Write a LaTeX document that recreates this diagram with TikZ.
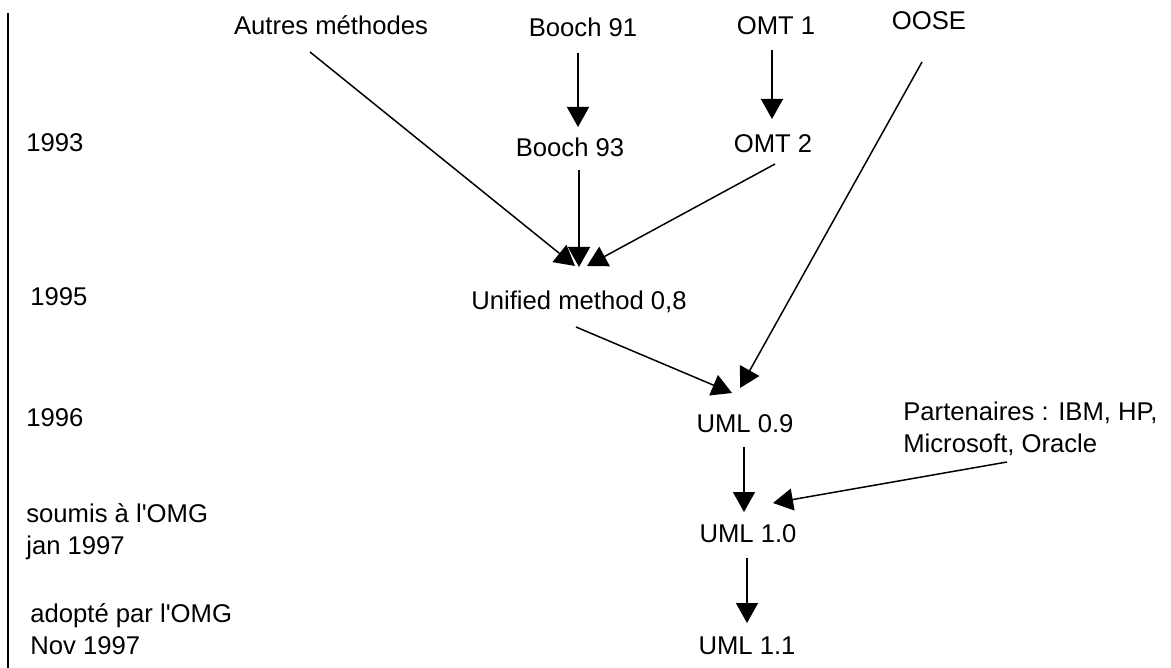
\documentclass[tikz,border=0pt]{standalone}
\usepackage{fontspec}
\setmainfont{Liberation Sans}
\usepackage{tikz}
\usetikzlibrary{arrows.meta}

\begin{document}
\begin{tikzpicture}[x=0.02cm,y=-0.02cm,
  lbl/.style={inner sep=0pt, anchor=base, font=\fontsize{14.6}{18.7}\selectfont},
  side/.style={lbl, anchor=base west, align=left},
  arr/.style={line width=0.85pt, -{Triangle[length=0.4cm,width=0.44cm]}}]

\useasboundingbox (0,0) rectangle (1171,668);

% ------------------------------------------------------------
% Time axis on the left
% ------------------------------------------------------------
\draw[line width=1.1pt] (8,13) -- (8,668);

\node[side] (y93) at (26,152) {1993};
\node[side] (y95) at (30,306) {1995};
\node[side] (y96) at (26,427) {1996};
% multi-line labels sit on the baseline of their last line
\node[side] (soumis) at (26,555) {soumis à l\textquotesingle OMG\\jan 1997};
\node[side] (adopte) at (30,655) {adopté par l\textquotesingle OMG\\Nov 1997};

% ------------------------------------------------------------
% Methods and versions
% ------------------------------------------------------------
\node[lbl] (autres) at (331,35) {Autres méthodes};
\node[lbl] (booch91) at (583,37) {Booch 91};
\node[lbl] (omt1) at (776,35) {OMT 1};
\node[lbl] (oose) at (929,30) {OOSE};

\node[lbl] (booch93) at (570,157) {Booch 93};
\node[lbl] (omt2) at (773,153) {OMT 2};

\node[lbl] (unified) at (579,310) {Unified method 0,8};

\node[lbl] (uml09) at (745,433) {UML 0.9};
\node[side] (partners) at (903,453) {Partenaires : IBM, HP,\\Microsoft, Oracle};
\node[lbl] (uml10) at (748,543) {UML 1.0};
\node[lbl] (uml11) at (747,655) {UML 1.1};

% ------------------------------------------------------------
% Arrows
% ------------------------------------------------------------
\draw[arr] ([shift={(-5,16)}]booch91.base) -- ([shift={(8,-30)}]booch93.base);
\draw[arr] ([shift={(-4,15)}]omt1.base) -- ([shift={(-1,-34)}]omt2.base);

% merging into the unified method
\draw[arr] ([shift={(-21,17)}]autres.base) -- ([shift={(-4,-44)}]unified.base);
\draw[arr] ([shift={(9,13)}]booch93.base) -- ([shift={(0,-43)}]unified.base);
\draw[arr] ([shift={(2,11)}]omt2.base) -- ([shift={(8,-44)}]unified.base);

% UML 0.9
\draw[arr] ([shift={(-3,17)}]unified.base) -- ([shift={(-13,-40)}]uml09.base);
\draw[arr] ([shift={(-7,32)}]oose.base) -- ([shift={(-5,-45)}]uml09.base);

% UML 1.0 and 1.1
\draw[arr] ([shift={(-1,14)}]uml09.base) -- ([shift={(-4,-31)}]uml10.base);
\draw[arr] ([shift={(104,9)}]partners.base west) -- ([shift={(25,-40)}]uml10.base);
\draw[arr] ([shift={(-1,15)}]uml10.base) -- ([shift={(0,-32)}]uml11.base);

\end{tikzpicture}
\end{document}
